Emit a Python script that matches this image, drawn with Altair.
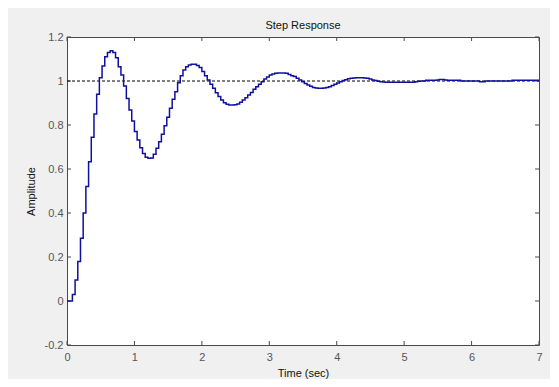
import altair as alt
import pandas as pd

# ---- data ----
sample_time = 0.04
amplitude = [
    0.0, 0.0, 0.03, 0.095, 0.18, 0.285, 0.40, 0.52, 0.633, 0.744,
    0.85, 0.94, 1.015, 1.068, 1.11, 1.129, 1.138, 1.129, 1.106, 1.065,
    1.027, 0.977, 0.921, 0.868, 0.818, 0.770, 0.732, 0.697, 0.671, 0.653,
    0.649, 0.650, 0.667, 0.694, 0.724, 0.758, 0.797, 0.835, 0.876, 0.917,
    0.951, 0.992, 1.024, 1.05, 1.065, 1.073, 1.076, 1.076, 1.070, 1.061,
    1.043, 1.024, 1.005, 0.985, 0.967, 0.947, 0.929, 0.914, 0.901, 0.894,
    0.891, 0.891, 0.892, 0.895, 0.903, 0.914, 0.924, 0.936, 0.948, 0.962,
    0.974, 0.985, 0.997, 1.009, 1.018, 1.027, 1.032, 1.035, 1.036, 1.036,
    1.036, 1.035, 1.030, 1.024, 1.020, 1.012, 1.005, 0.997, 0.989, 0.982,
    0.976, 0.971, 0.968, 0.967, 0.967, 0.968, 0.970, 0.974, 0.979, 0.985,
    0.991, 0.997, 1.002, 1.006, 1.010, 1.013, 1.014, 1.015, 1.015, 1.015,
    1.014, 1.012, 1.009, 1.005, 1.002, 0.999, 0.997, 0.995, 0.994, 0.994,
    0.994, 0.994, 0.994, 0.994, 0.994, 0.994, 0.994, 0.994, 0.994, 0.997,
    0.999, 1.0, 1.0, 1.003, 1.003, 1.003, 1.003, 1.005, 1.007, 1.007,
    1.004, 1.003, 1.003, 1.003, 1.003, 1.003, 1.0, 1.0, 1.0, 1.0,
    1.0, 1.0, 1.0, 0.997, 0.997, 1.0, 1.0, 1.0, 1.0, 1.0,
    1.0, 1.0, 1.0, 1.0, 1.0, 1.003, 1.003, 1.003, 1.003, 1.003,
    1.003, 1.003, 1.003, 1.003, 1.003, 1.003,
]
time = [round(k * sample_time, 2) for k in range(len(amplitude))]

ref_time = [0, 7]
ref_level = [1, 1]

x_ticks = [0, 1, 2, 3, 4, 5, 6, 7]
y_ticks = [-0.2, 0, 0.2, 0.4, 0.6, 0.8, 1.0, 1.2]

title_text = "Step Response"
x_title = "Time (sec)"
y_title = "Amplitude"

# ---- styling ----
W, H = 472, 308
FONT = "Liberation Sans"
FRAME = "#4a4a4a"
LABEL = "#555555"
TEXT = "#111111"
LINE = "#1010A0"

resp = pd.DataFrame({"t": time, "y": amplitude})
ref = pd.DataFrame({"t": ref_time, "y": ref_level})
xt = pd.DataFrame({"t": x_ticks})
yt = pd.DataFrame({"y": y_ticks})

xscale = alt.Scale(domain=[0, 7], nice=False, zero=False)
yscale = alt.Scale(domain=[-0.2, 1.2], nice=False, zero=False)

xaxis = alt.Axis(
    values=x_ticks, title=x_title, ticks=False, domain=False, grid=False,
    labelPadding=6, labelFontSize=11, labelColor=LABEL, labelFont=FONT,
    labelFlush=False, format="d",
    titleFont=FONT, titleFontSize=11, titleColor=TEXT, titleFontWeight="normal",
    titleY=31, titleBaseline="alphabetic",
)
yaxis = alt.Axis(
    values=y_ticks, title=y_title, ticks=False, domain=False, grid=False,
    labelPadding=4, labelFontSize=11, labelColor=LABEL, labelFont=FONT,
    labelFlush=False,
    labelExpr="replace(format(datum.value, '.1~f'), '\u2212', '-')",
    titleFont=FONT, titleFontSize=11, titleColor=TEXT, titleFontWeight="normal",
    titleX=-33, titleY=H / 2, titleAngle=270, titleBaseline="alphabetic",
    titleAlign="center",
)

X = alt.X("t:Q", scale=xscale, axis=xaxis)
Y = alt.Y("y:Q", scale=yscale, axis=yaxis)

line = alt.Chart(resp).mark_line(
    interpolate="step-after", color=LINE, strokeWidth=1.5
).encode(x=X, y=Y)

refline = alt.Chart(ref).mark_line(
    color="black", strokeDash=[3, 2], strokeWidth=1
).encode(x=X, y=Y)

xt_bottom = alt.Chart(xt).mark_rule(color=FRAME).encode(
    x=X, y=alt.value(H), y2=alt.value(H - 4))
xt_top = alt.Chart(xt).mark_rule(color=FRAME).encode(
    x=X, y=alt.value(0), y2=alt.value(4))
yt_left = alt.Chart(yt).mark_rule(color=FRAME).encode(
    y=Y, x=alt.value(0), x2=alt.value(4))
yt_right = alt.Chart(yt).mark_rule(color=FRAME).encode(
    y=Y, x=alt.value(W), x2=alt.value(W - 4))

chart = alt.layer(
    xt_bottom, xt_top, yt_left, yt_right, refline, line
).properties(
    width=W, height=H,
    padding={"left": 59, "top": 29, "right": 11, "bottom": 34},
    autosize=alt.AutoSizeParams(type="none"),
    background="#F0F0F0",
    title=alt.TitleParams(
        title_text, fontSize=11, font=FONT, fontWeight="normal",
        color=TEXT, offset=0, anchor="middle"),
).configure_view(
    stroke=FRAME, strokeWidth=1, fill="white"
)

chart.save("out.html", embed_options={"renderer": "svg", "actions": False})
